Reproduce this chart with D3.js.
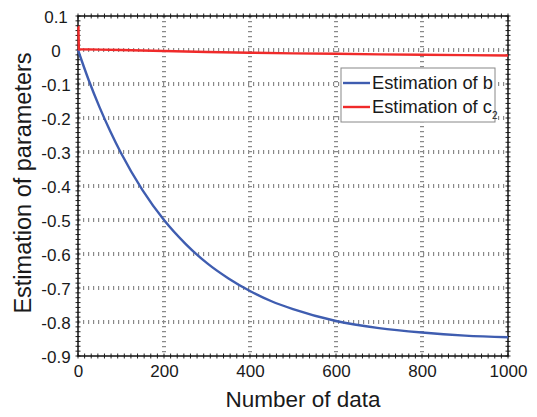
<!DOCTYPE html>
<html><head><meta charset="utf-8">
<script src="https://cdn.jsdelivr.net/npm/d3@7"></script>
<style>body{margin:0;background:#fff}svg{display:block}text{font-family:"Liberation Sans",Arial,sans-serif;fill:#1a1a1a}</style>
</head><body><svg id="c" width="537" height="417"></svg>
<script>
// Data
const nB = [0,25,50,75,100,150,200,250,300,350,400,450,500,600,700,800,900,1000];
const bVals = [0,-0.089,-0.168,-0.239,-0.303,-0.412,-0.500,-0.570,-0.627,-0.672,-0.709,-0.739,-0.762,-0.797,-0.818,-0.831,-0.840,-0.845];
const nC = [0,1,2,50,100,200,300,400,500,600,700,800,900,1000];
const cVals = [0.068,0.068,0.002,0.001,0.000,-0.003,-0.006,-0.008,-0.010,-0.011,-0.013,-0.014,-0.015,-0.016];
const xTicks = [0,200,400,600,800,1000];
const yTicks = [0.1,0,-0.1,-0.2,-0.3,-0.4,-0.5,-0.6,-0.7,-0.8,-0.9];
const yTickLabels = ["0.1","0","-0.1","-0.2","-0.3","-0.4","-0.5","-0.6","-0.7","-0.8","-0.9"];
const legendLabels = ["Estimation of b","Estimation of c"];

const svg = d3.select("#c");
const L=78,R=508,T=16,B=356;
const x = d3.scaleLinear().domain([0,1000]).range([L,R]);
const y = d3.scaleLinear().domain([-0.9,0.1]).range([B,T]);

// grid
const g = svg.append("g");
g.selectAll(".gx").data(xTicks.slice(1,-1)).join("line")
  .attr("x1",d=>x(d)).attr("x2",d=>x(d)).attr("y1",T).attr("y2",B)
  .attr("stroke","#8a8a8a").attr("stroke-width",4).attr("stroke-dasharray","1.2 3.8");
g.selectAll(".gy").data(yTicks.slice(1,-1)).join("line")
  .attr("y1",d=>y(d)).attr("y2",d=>y(d)).attr("x1",L).attr("x2",R)
  .attr("stroke","#8a8a8a").attr("stroke-width",4).attr("stroke-dasharray","1.2 3.8");

// minor ticks (both sides of each axis line)
const xm = d3.range(0,66).map(i=>i*1000/65);
const ym = d3.range(0,71).map(i=>0.1-i*0.1/7);
const tk = svg.append("g").attr("stroke","#222").attr("stroke-width",1);
[B,T].forEach(yy=>{
  tk.selectAll(null).data(xm).join("line").attr("x1",d=>x(d)).attr("x2",d=>x(d)).attr("y1",yy-2.5).attr("y2",yy+2.5);
});
[L,R].forEach(xx=>{
  tk.selectAll(null).data(ym).join("line").attr("y1",d=>y(d)).attr("y2",d=>y(d)).attr("x1",xx-2.5).attr("x2",xx+2.5);
});

// box
svg.append("rect").attr("x",L).attr("y",T).attr("width",R-L).attr("height",B-T)
  .attr("fill","none").attr("stroke","#111").attr("stroke-width",1.5);

// lines
const line = d3.line();
svg.append("path").datum(nB.map((n,i)=>[x(n),y(bVals[i])])).attr("d",d3.line().curve(d3.curveMonotoneX))
  .attr("fill","none").attr("stroke","#3f5db0").attr("stroke-width",2.4);
svg.append("path").datum(nC.map((n,i)=>[x(n),y(cVals[i])])).attr("d",line)
  .attr("fill","none").attr("stroke","#f02a2a").attr("stroke-width",2.4);

// axes labels via d3 axes
const ax = svg.append("g").attr("transform",`translate(0,${B})`)
  .call(d3.axisBottom(x).tickValues(xTicks).tickSize(0).tickPadding(0).tickFormat(d3.format("d")));
ax.select(".domain").remove();
ax.selectAll("text").attr("y",21).attr("dy",0).attr("font-size",17).style("font-family","'Liberation Sans',Arial,sans-serif").attr("fill","#1a1a1a");
const ay = svg.append("g").attr("transform",`translate(${L},0)`)
  .call(d3.axisLeft(y).tickValues(yTicks).tickSize(0).tickFormat((d,i)=>yTickLabels[i]));
ay.select(".domain").remove();
ay.selectAll("text").attr("x",-22).attr("dy","0.36em").attr("text-anchor","middle").attr("font-size",17)
  .style("font-family","'Liberation Sans',Arial,sans-serif").attr("fill","#1a1a1a");

// titles
svg.append("text").attr("x",(L+R)/2+10).attr("y",407).attr("text-anchor","middle").attr("font-size",22.5).text("Number of data");
svg.append("text").attr("transform",`translate(31,${(T+B)/2 - 3}) rotate(-90)`).attr("text-anchor","middle").attr("font-size",23.5).text("Estimation of parameters");

// legend
const lg = svg.append("g");
lg.append("rect").attr("x",341).attr("y",68).attr("width",154).attr("height",54).attr("fill","#fff").attr("stroke","#888").attr("stroke-width",1);
const cols=["#3f5db0","#f02a2a"];
[83,107].forEach((yy,i)=>{
  lg.append("line").attr("x1",343).attr("x2",370).attr("y1",yy).attr("y2",yy).attr("stroke",cols[i]).attr("stroke-width",2.4);
});
lg.append("text").attr("x",372).attr("y",89).attr("font-size",18.3).text(legendLabels[0]);
const t2 = lg.append("text").attr("x",372).attr("y",113).attr("font-size",18.3).text(legendLabels[1]);
t2.append("tspan").attr("font-size",10).attr("dy",6).text("2");
</script></body></html>
